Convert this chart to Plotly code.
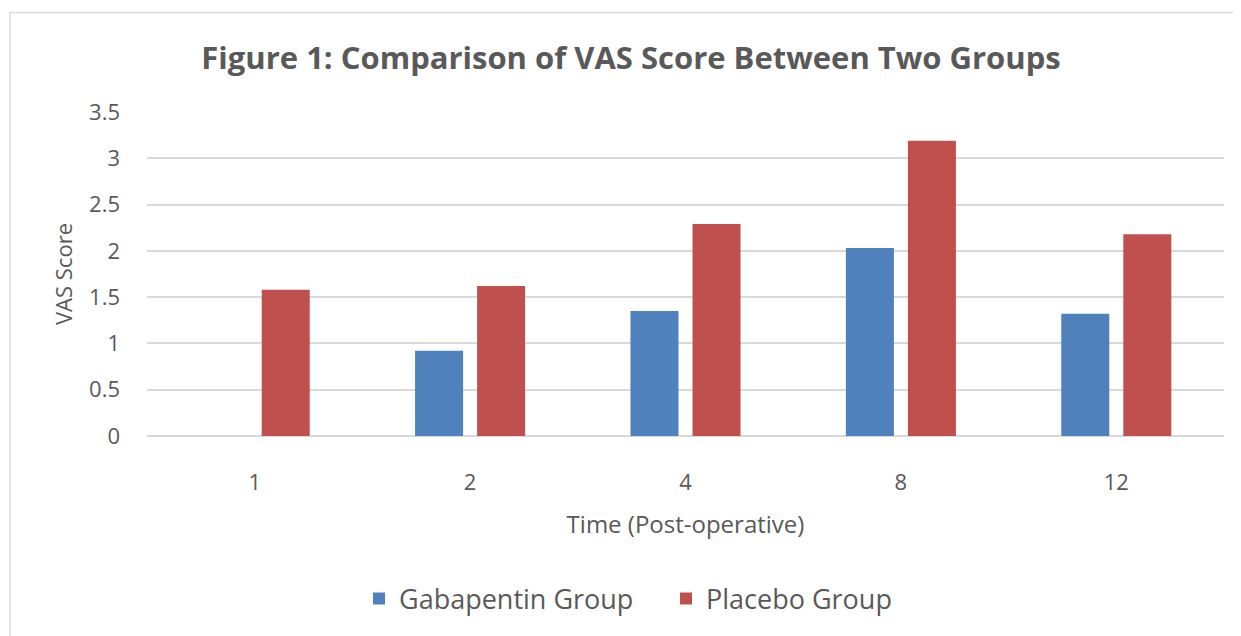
import plotly.graph_objects as go

categories = ["1", "2", "4", "8", "12"]
gabapentin = [0, 0.92, 1.35, 2.03, 1.32]
placebo = [1.58, 1.62, 2.29, 3.19, 2.18]

OFF = 8  # page body margin
W, H = 1241 - OFF, 636 - OFF
L, T = 147 - OFF, 112 - OFF
R = W - (1224 - OFF)
B = H - (438 - OFF)
pw, ph = W - L - R, H - T - B

def px(sx):
    return (sx - OFF - L) / pw

def py(sy):
    return (H - B - (sy - OFF)) / ph

font = "Open Sans, sans-serif"
grey = "#595959"

fig = go.Figure()
fig.add_trace(go.Bar(x=categories, y=gabapentin, name="Gabapentin Group",
                     marker=dict(color="#4F81BD", line=dict(width=0))))
fig.add_trace(go.Bar(x=categories, y=placebo, name="Placebo Group",
                     marker=dict(color="#C0504D", line=dict(width=0))))

fig.update_layout(
    width=W, height=H,
    margin=dict(l=L, r=R, t=T, b=B),
    paper_bgcolor="white", plot_bgcolor="white",
    barmode="group", bargap=0.424, bargroupgap=0.226,
    font=dict(family=font, color=grey, size=22),
    title=dict(text="<b>Figure 1: Comparison of VAS Score Between Two Groups</b>",
               x=(631 - OFF) / W, xref="container", xanchor="center",
               y=1 - (58 - OFF) / H, yref="container", yanchor="middle",
               font=dict(size=31, color=grey, family=font)),
    xaxis=dict(type="category", showgrid=False, showline=False, ticks="",
               tickfont=dict(size=22, color=grey), ticklabelstandoff=31,
               title=dict(text="Time (Post-operative)", font=dict(size=24, color=grey), standoff=21)),
    yaxis=dict(range=[0, 3.5], dtick=0.5, showgrid=True, gridcolor="#D9D9D9", gridwidth=1.5,
               zeroline=True, zerolinecolor="#D9D9D9", zerolinewidth=1.5,
               ticks="", tickfont=dict(size=22, color=grey), ticklabelstandoff=26,
               title=dict(text="VAS Score", font=dict(size=22, color=grey), standoff=10)),
    legend=dict(orientation="h", x=px(359), xanchor="left", y=py(602), yanchor="middle",
                font=dict(size=27, color=grey), traceorder="normal",
                entrywidth=262, entrywidthmode="pixels"),
    shapes=[dict(type="rect", xref="paper", yref="paper",
                 x0=px(10), x1=px(1260), y0=py(660), y1=py(12),
                 line=dict(color="#D9D9D9", width=1.5), fillcolor="rgba(0,0,0,0)", layer="below")],
)

fig.write_html("out.html")
